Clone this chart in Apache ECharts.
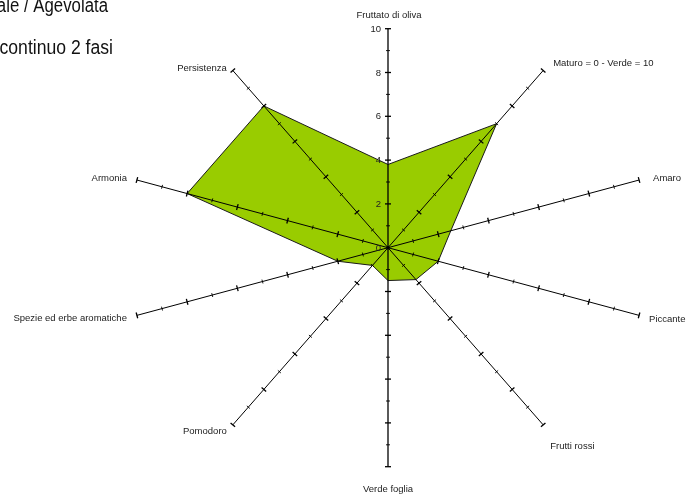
<!DOCTYPE html>
<html><head><meta charset="utf-8">
<script src="https://cdn.jsdelivr.net/npm/echarts@6/dist/echarts.min.js"></script>
<style>html,body{margin:0;padding:0;background:#fff}#c{width:686px;height:495px}</style>
</head><body><div id="c"></div>
<script>
// ---- data ----
const categories = ['Fruttato di oliva','Maturo = 0 - Verde = 10','Amaro','Piccante','Frutti rossi','Verde foglia','Pomodoro','Spezie ed erbe aromatiche','Armonia','Persistenza'];
const values = [3.8, 7, 2.5, 2, 1.8, 1.5, 1, 2, 8, 8];
const scaleMax = 10;
const tickValues = [1,2,3,4,5,6,7,8,9,10];
const tickLabels = ['0','2','4','6','8','10'];
const titleLines = ['ale / Agevolata', 'continuo 2 fasi'];

// ---- layout / style ----
const labelOffsets = [[1,-13,'center'],[10,-7,'left'],[14,-2,'left'],[10,4,'left'],[7,22,'left'],[0,23,'center'],[-6,7,'right'],[-10,3,'right'],[-10,-2,'right'],[-6,-2,'right']];
const labelFont = '9.5px "Liberation Sans", Arial, sans-serif';
const titleFont = '20px "Liberation Sans", Arial, sans-serif';

function angleOf(i){ return (90 - 360 / categories.length * i) * Math.PI / 180; }
function polar(i, v){ const a = angleOf(i); return [v * Math.cos(a), v * Math.sin(a)]; }

const chart = echarts.init(document.getElementById('c'), null, {renderer: 'canvas'});

chart.setOption({
  animation: false,
  backgroundColor: '#fff',
  grid: {left: 124, width: 528, top: 28.7, height: 438},
  xAxis: {type: 'value', min: -scaleMax, max: scaleMax, show: false},
  yAxis: {type: 'value', min: -scaleMax, max: scaleMax, show: false},
  graphic: [
    {type: 'text', x: 108, y: 6.5, scaleX: 0.84, style: {text: titleLines[0], font: titleFont, fill: '#111', align: 'right', verticalAlign: 'middle'}},
    {type: 'text', x: 113, y: 48.5, scaleX: 0.88, style: {text: titleLines[1], font: titleFont, fill: '#111', align: 'right', verticalAlign: 'middle'}}
  ],
  series: [
    {
      type: 'custom', name: 'area', coordinateSystem: 'cartesian2d', clip: false, z: 2,
      data: [[0, 0]],
      renderItem: function (params, api) {
        const pts = values.map(function (v, i) { return api.coord(polar(i, v)); });
        return {type: 'polygon', shape: {points: pts}, style: {fill: '#99CC00', stroke: '#1a1a1a', lineWidth: 1}};
      }
    },
    {
      type: 'custom', name: 'axes', coordinateSystem: 'cartesian2d', clip: false, z: 3,
      data: categories.map(function (c, i) { return [i, 0]; }),
      renderItem: function (params, api) {
        const i = params.dataIndex;
        const c = api.coord([0, 0]);
        const e = api.coord(polar(i, scaleMax));
        const dx = e[0] - c[0], dy = e[1] - c[1];
        const len = Math.sqrt(dx * dx + dy * dy);
        const nx = -dy / len, ny = dx / len;
        const children = [{type: 'line', shape: {x1: c[0], y1: c[1], x2: e[0], y2: e[1]}, style: {stroke: '#000', lineWidth: i === 0 || i === 5 ? 1.3 : 1}}];
        tickValues.forEach(function (t) {
          const p = api.coord(polar(i, t));
          const h = t % 2 === 0 ? 3 : 2;
          children.push({type: 'line', shape: {x1: p[0] - nx * h, y1: p[1] - ny * h, x2: p[0] + nx * h, y2: p[1] + ny * h}, style: {stroke: '#000', lineWidth: t % 2 === 0 ? 1.3 : 0.9}});
        });
        const o = labelOffsets[i];
        children.push({type: 'text', x: e[0] + o[0], y: e[1] + o[1], style: {text: categories[i], font: labelFont, fill: '#222', align: o[2], verticalAlign: 'middle'}});
        if (i === 0) {
          children.push({type: 'circle', shape: {cx: c[0], cy: c[1], r: 1.8}, style: {fill: '#000'}});
        }
        return {type: 'group', children: children};
      }
    },
    {
      type: 'custom', name: 'tickLabels', coordinateSystem: 'cartesian2d', clip: false, z: 4,
      data: tickLabels.map(function (l) { return [0, Number(l)]; }),
      renderItem: function (params, api) {
        const p = api.coord([api.value(0), api.value(1)]);
        return {type: 'text', x: p[0] - 7, y: p[1] + 0.5, style: {text: tickLabels[params.dataIndex], font: labelFont, fill: '#222', align: 'right', verticalAlign: 'middle'}};
      }
    }
  ]
});
</script>
</body></html>
